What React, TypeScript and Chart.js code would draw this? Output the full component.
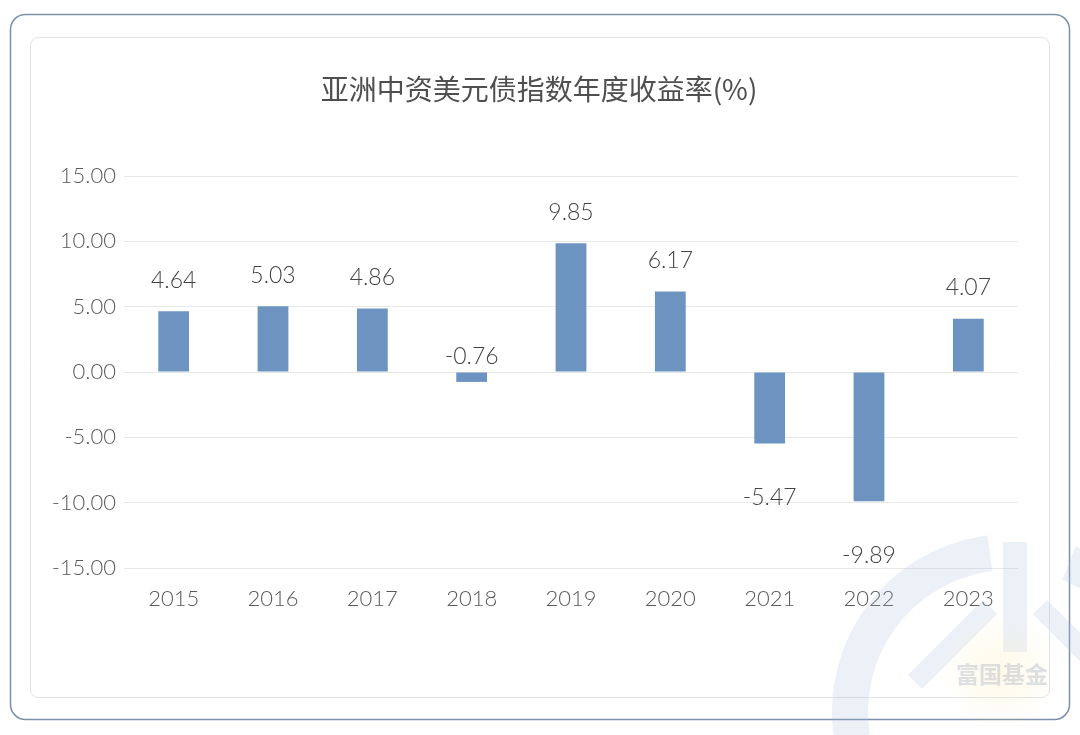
import React, { useEffect, useRef } from "react";
import { Chart, registerables } from "chart.js";

Chart.register(...registerables);

const chartTitle = "亚洲中资美元债指数年度收益率(%)";
const years = ["2015", "2016", "2017", "2018", "2019", "2020", "2021", "2022", "2023"];
const returns = [4.64, 5.03, 4.86, -0.76, 9.85, 6.17, -5.47, -9.89, 4.07];
const yMin = -15;
const yMax = 15;
const yStep = 5;
const watermarkText = "富国基金";

const LATIN = "Lato, 'Noto Sans', sans-serif";
const CJK = "'Noto Sans CJK SC', 'Noto Sans', sans-serif";

function roundRect(ctx: CanvasRenderingContext2D, x: number, y: number, w: number, h: number, r: number) {
  ctx.beginPath();
  ctx.moveTo(x + r, y);
  ctx.lineTo(x + w - r, y);
  ctx.arcTo(x + w, y, x + w, y + r, r);
  ctx.lineTo(x + w, y + h - r);
  ctx.arcTo(x + w, y + h, x + w - r, y + h, r);
  ctx.lineTo(x + r, y + h);
  ctx.arcTo(x, y + h, x, y + h - r, r);
  ctx.lineTo(x, y + r);
  ctx.arcTo(x, y, x + r, y, r);
  ctx.closePath();
}

const framePlugin = {
  id: "frame",
  beforeDraw(chart: any) {
    const ctx = chart.ctx as CanvasRenderingContext2D;
    ctx.save();
    ctx.fillStyle = "#ffffff";
    ctx.fillRect(0, 0, chart.width, chart.height);
    roundRect(ctx, 10.5, 14.5, 1059, 705, 15);
    ctx.lineWidth = 1.5;
    ctx.strokeStyle = "#7d90a8";
    ctx.stroke();
    roundRect(ctx, 30.5, 37.5, 1019, 660, 8);
    ctx.lineWidth = 1;
    ctx.strokeStyle = "#dfe4ea";
    ctx.stroke();
    ctx.fillStyle = "#4f4f4f";
    ctx.font = `28px ${CJK}`;
    ctx.textAlign = "center";
    ctx.textBaseline = "middle";
    ctx.fillText(chartTitle, 539, 89);
    ctx.restore();
  },
  afterDraw(chart: any) {
    const ctx = chart.ctx as CanvasRenderingContext2D;
    ctx.save();
    const cx = 1010, cy = 712;
    ctx.globalAlpha = 0.22;
    ctx.strokeStyle = "#a9c0de";
    ctx.lineWidth = 36;
    ctx.beginPath();
    ctx.arc(cx, cy, 160, Math.PI * 0.95, Math.PI * 1.46);
    ctx.stroke();
    ctx.beginPath();
    ctx.arc(cx, cy, 160, Math.PI * 1.62, Math.PI * 2.1);
    ctx.stroke();
    ctx.lineWidth = 24;
    ctx.beginPath();
    ctx.moveTo(cx + 5, cy - 170);
    ctx.lineTo(cx + 5, cy - 60);
    ctx.stroke();
    ctx.lineWidth = 20;
    ctx.beginPath();
    ctx.moveTo(cx - 95, cy - 30);
    ctx.lineTo(cx - 20, cy - 105);
    ctx.moveTo(cx + 30, cy - 105);
    ctx.lineTo(cx + 80, cy - 55);
    ctx.stroke();
    ctx.globalAlpha = 0.25;
    const g = ctx.createRadialGradient(1000, 672, 5, 1000, 672, 60);
    g.addColorStop(0, "#ffe9a8");
    g.addColorStop(1, "rgba(255,233,168,0)");
    ctx.fillStyle = g;
    ctx.fillRect(930, 610, 140, 125);
    ctx.globalAlpha = 0.45;
    ctx.fillStyle = "#b4bcc8";
    ctx.font = `bold 23px ${CJK}`;
    ctx.textAlign = "center";
    ctx.textBaseline = "middle";
    ctx.fillText(watermarkText, 1002, 674);
    ctx.restore();
  },
};

const labelPlugin = {
  id: "barLabels",
  afterDatasetsDraw(chart: any) {
    const ctx = chart.ctx as CanvasRenderingContext2D;
    const meta = chart.getDatasetMeta(0);
    const yScale = chart.scales.y;
    const zeroY = yScale.getPixelForValue(0);
    ctx.save();
    ctx.fillStyle = "#434343";
    ctx.font = `300 23px ${LATIN}`;
    ctx.textAlign = "center";
    ctx.textBaseline = "middle";
    meta.data.forEach((el: any, i: number) => {
      const v = returns[i];
      let y: number;
      if (v >= 0) y = el.y - 31;
      else if (v > -2) y = zeroY - 15;
      else y = el.y + 54;
      ctx.fillText(v.toFixed(2), el.x, y);
    });
    ctx.restore();
  },
};

export default function App() {
  const ref = useRef<HTMLCanvasElement | null>(null);
  useEffect(() => {
    if (!ref.current) return;
    const chart = new Chart(ref.current, {
      type: "bar",
      data: {
        labels: years,
        datasets: [
          {
            data: returns,
            backgroundColor: "#6d94c0",
            barPercentage: 0.31,
            categoryPercentage: 1,
          },
        ],
      },
      options: {
        animation: false,
        responsive: true,
        maintainAspectRatio: false,
        layout: { padding: { top: 176, right: 62, left: 0, bottom: 0 } },
        plugins: {
          legend: { display: false },
          tooltip: { enabled: false },
          title: { display: false },
        },
        scales: {
          x: {
            grid: { display: false },
            border: { display: false },
            ticks: {
              color: "#5a5a5a",
              font: { family: LATIN, size: 22, weight: "300" },
              padding: 10,
            },
            afterFit: (s: any) => {
              s.height = 167;
            },
          },
          y: {
            min: yMin,
            max: yMax,
            grid: { color: "#e8e8e8", drawTicks: false, lineWidth: 1 },
            border: { display: false },
            ticks: {
              stepSize: yStep,
              color: "#5a5a5a",
              font: { family: LATIN, size: 22, weight: "300" },
              padding: 8,
              callback: (v: any) => Number(v).toFixed(2),
            },
            afterFit: (s: any) => {
              s.width = 124;
            },
          },
        },
      },
      plugins: [framePlugin, labelPlugin],
    });
    return () => chart.destroy();
  }, []);
  return (
    <div style={{ position: "absolute", left: 0, top: 0, width: 1080, height: 735 }}>
      <canvas ref={ref} />
    </div>
  );
}
